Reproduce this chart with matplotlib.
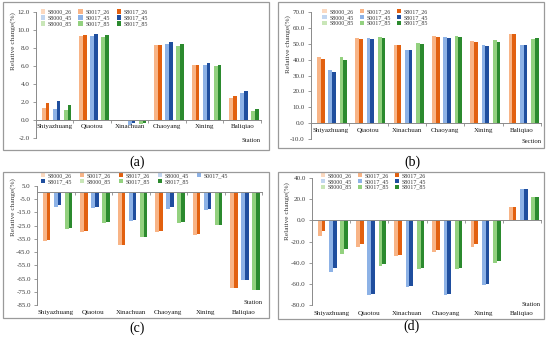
import matplotlib
matplotlib.use("Agg")
import matplotlib.pyplot as plt
import numpy as np
from matplotlib.patches import Rectangle
from matplotlib.ticker import FormatStrFormatter, FixedLocator
import matplotlib.transforms as mtransforms

plt.rcParams["font.family"] = ["Liberation Serif", "DejaVu Serif"]

# ── Data ──────────────────────────────────────────────────────────────────────
stations = ["Shiyazhuang", "Qiaotou", "Xinachuan", "Chaoyang", "Xining", "Baliqiao"]
series = ["S8000_26", "S0017_26", "S8017_26",
          "S8000_45", "S0017_45", "S8017_45",
          "S8000_85", "S0017_85", "S8017_85"]
colors = ["#FBD9C0", "#F8B486", "#E2600F",
          "#C2D6F0", "#8DB2E6", "#1F4E9E",
          "#C9E6B8", "#93D17F", "#2B8A2E"]

# rows follow `series`, columns follow `stations`
vals_a = [
    [0, 0, -0.1, 0, 0, -0.1],
    [1.4, 9.4, -0.1, 8.35, 6.15, 2.5],
    [1.95, 9.5, -0.1, 8.4, 6.15, 2.7],
    [0, 0, -0.1, 0, 0, -0.1],
    [1.3, 9.35, -0.55, 8.5, 6.2, 3.0],
    [2.1, 9.55, -0.35, 8.65, 6.4, 3.2],
    [0, 0, -0.1, 0, 0, -0.1],
    [1.1, 9.3, -0.4, 8.3, 6.05, 1.0],
    [1.75, 9.45, -0.3, 8.45, 6.15, 1.2],
]
vals_b = [
    [0, 0, 0, 0, 0, 0],
    [41.3, 53.8, 49.3, 54.8, 51.8, 56.0],
    [40.2, 53.1, 49.2, 54.1, 50.8, 56.3],
    [0, 0, 0, 0, 0, 0],
    [33.4, 53.8, 46.3, 54.3, 49.1, 49.1],
    [32.2, 53.1, 45.8, 53.8, 48.3, 49.4],
    [0, 0, 0, 0, 0, 0],
    [41.5, 54.2, 50.1, 54.7, 52.0, 52.9],
    [40.0, 53.6, 49.5, 54.1, 51.0, 53.6],
]
vals_c = [
    [0, 0, 0, 0, 0, 0],
    [-36.3, -29.6, -39.6, -29.6, -31.9, -72.0],
    [-35.6, -29.3, -39.3, -29.3, -31.6, -72.2],
    [0, 0, 0, 0, 0, 0],
    [-11.3, -12.0, -21.3, -12.3, -13.3, -66.0],
    [-9.6, -11.2, -20.7, -11.4, -12.2, -66.2],
    [0, 0, 0, 0, 0, 0],
    [-27.6, -22.8, -33.4, -22.8, -24.9, -73.5],
    [-26.6, -22.5, -33.3, -22.6, -24.7, -73.5],
]
vals_d = [
    [0, 0, 0, 0, 0, 0],
    [-14.5, -25.0, -33.8, -30.0, -25.0, 12.0],
    [-9.7, -21.9, -32.6, -28.0, -22.1, 12.3],
    [0, 0, 0, 0, 0, 0],
    [-48.5, -70.7, -62.7, -69.9, -61.0, 29.0],
    [-44.8, -69.6, -62.3, -69.1, -60.2, 29.2],
    [0, 0, 0, 0, 0, 0],
    [-31.9, -43.1, -46.2, -46.1, -40.3, 21.7],
    [-27.2, -41.5, -45.2, -44.6, -38.7, 21.8],
]

W, H = 550, 340
fig = plt.figure(figsize=(W / 100, H / 100), dpi=100)


def fx(px):
    return px / W


def fy(py):
    return 1 - py / H


GREY = "#8a8a8a"
TXT = "#3a3a3a"


def panel(box, vals, ylim, step, xname, labels_at_zero, ncol, colsp, leg_xy,
          ylab_xy, letter, letter_xy, frame, xname_dy):
    l, r, t, b = box
    ax = fig.add_axes([fx(l), fy(b), fx(r) - fx(l), fy(t) - fy(b)])
    n = len(stations)
    x = np.arange(n) + 0.5
    w = 0.098
    handles = []
    for i, (name, col, v) in enumerate(zip(series, colors, vals)):
        h = ax.bar(x + (i - 4) * w, v, w, color=col, linewidth=0, label=name)
        handles.append(h)
    ax.set_xlim(0, n)
    ax.set_ylim(*ylim)

    for s in ["top", "right"]:
        ax.spines[s].set_visible(False)
    ax.spines["left"].set_color(GREY)
    ax.spines["left"].set_linewidth(0.7)
    ax.spines["bottom"].set_position(("data", 0))
    ax.spines["bottom"].set_color(GREY)
    ax.spines["bottom"].set_linewidth(0.7)

    yt = np.arange(ylim[0], ylim[1] + step / 2, step)
    ax.yaxis.set_major_locator(FixedLocator(yt))
    ax.yaxis.set_major_formatter(FormatStrFormatter("%.1f"))
    ax.tick_params(axis="y", direction="out", length=2.5, width=0.6,
                   color=GREY, labelsize=5, labelcolor=TXT, pad=2)

    ax.set_xticks(np.arange(n + 1), minor=True)
    ax.tick_params(axis="x", which="minor", direction="out", length=2.5,
                   width=0.6, color=GREY)
    if labels_at_zero:
        ax.set_xticks(x, stations)
        ax.tick_params(axis="x", which="major", length=0, labelsize=5,
                       labelcolor="#1a1a1a", pad=3)
    else:
        ax.set_xticks(x, [""] * n)
        ax.tick_params(axis="x", which="major", length=0)
        tr = mtransforms.blended_transform_factory(ax.transData, ax.transAxes)
        for xi, s in zip(x, stations):
            ax.text(xi, -0.062, s, transform=tr, ha="center", va="center",
                    fontsize=5, color="#1a1a1a")

    ax.text(1.0, xname_dy, xname, transform=ax.transAxes, ha="right",
            va="center", fontsize=4.8, color="#1a1a1a")

    fig.text(fx(ylab_xy[0]), fy(ylab_xy[1]), "Relative change(%)",
             rotation=90, ha="center", va="center", fontsize=5.2, color=TXT)

    # legend entries filled row by row, like the original
    nrows = int(np.ceil(len(series) / ncol))
    order = [rr * ncol + c for c in range(ncol) for rr in range(nrows)
             if rr * ncol + c < len(series)]
    leg = ax.legend([handles[k] for k in order], [series[k] for k in order],
                    ncol=ncol, loc="upper left", frameon=False,
                    bbox_to_anchor=(fx(leg_xy[0]), fy(leg_xy[1])),
                    bbox_transform=fig.transFigure, borderaxespad=0,
                    borderpad=0, fontsize=4.3, handlelength=0.75,
                    handleheight=0.75, handletextpad=0.4, labelspacing=0.12,
                    columnspacing=colsp)
    for txt in leg.get_texts():
        txt.set_color(TXT)

    fig.text(fx(letter_xy[0]), fy(letter_xy[1]), letter, ha="center",
             va="center", fontsize=10, color="black")

    fx0, fy0, fx1, fy1 = frame
    fig.patches.append(Rectangle((fx(fx0), fy(fy1)), fx(fx1) - fx(fx0),
                                 fy(fy0) - fy(fy1), transform=fig.transFigure,
                                 fill=False, edgecolor="#9a9a9a", lw=0.9))
    return ax


panel((36, 261, 12.3, 138.3), vals_a, (-2, 12), 2.0, "Station", True, 3, 1.15,
      (40.5, 9.2), (13.5, 41), "(a)", (137, 162), (3, 2, 269, 150), -0.02)
panel((311, 541, 11.7, 139.3), vals_b, (-10, 70), 10.0, "Section", True, 3, 1.0,
      (322.5, 8.6), (288, 44), "(b)", (412, 162), (278, 2, 544, 148), -0.02)
panel((37, 262, 185.7, 305.3), vals_c, (-85, 5), 10.0, "Station", False, 5, 1.3,
      (41, 172.6), (13.5, 207), "(c)", (137, 328), (3, 172, 269, 318), 0.02)
panel((312, 541, 177.7, 305.3), vals_d, (-80, 40), 20.0, "Station", False, 3, 1.0,
      (320.5, 172.6), (287, 211), "(d)", (412, 326), (278, 172, 544, 319),
      0.01)

fig.savefig("out.png", dpi=100, facecolor="white")
